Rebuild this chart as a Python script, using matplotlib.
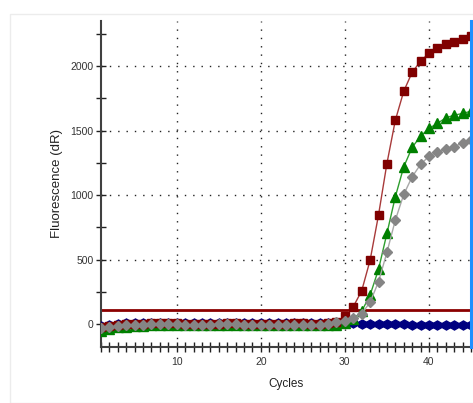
"""qPCR amplification plot: fluorescence (dR) per cycle."""

import matplotlib
matplotlib.use("Agg")
from matplotlib import pyplot as plt
from matplotlib.patches import Rectangle
from matplotlib.ticker import MultipleLocator, FixedLocator

plt.rcParams["font.family"] = ["Liberation Sans", "DejaVu Sans"]

cycles = list(range(1, 46))

blue = [-15, -5, 0, 5, 5, 8, 10, 10, 10, 12, 8, 8, 8, 8, 8, 10, 10, 8, 8, 8,
        8, 8, 10, 10, 10, 10, 10, 8, 8, 5, 5, 2, 2, 2, 2, 2, 0, -8, -8, -10,
        -10, -10, -10, -10, -10]
green = [-50, -35, -25, -20, -15, -15, -10, -10, -10, -10, -10, -10, -10, -10,
         -10, -10, -10, -10, -10, -10, -10, -10, -10, -10, -10, -10, -10, -8,
         -5, 5, 40, 100, 225, 424, 703, 987, 1219, 1370, 1457, 1517, 1556,
         1599, 1620, 1633, 1651]
red = [-20, -15, -5, 0, 0, 0, 5, 5, 5, 5, 0, 0, 0, 0, 0, 5, 5, 0, 0, 0,
       0, 0, 0, 5, 5, 0, 0, 5, 15, 60, 135, 258, 495, 845, 1245, 1580, 1805,
       1952, 2038, 2100, 2140, 2168, 2188, 2209, 2232]
gray = [-30, -25, -15, -10, -5, -5, 0, 0, 0, 0, -5, -5, -5, -5, 0, 0, 0, -5,
        -5, -5, -5, -5, -5, -5, -5, -5, -5, 0, 15, 25, 45, 80, 170, 328, 556,
        806, 1005, 1142, 1238, 1302, 1336, 1357, 1375, 1406, 1426]

threshold = 110
y_ticks = [0, 500, 1000, 1500, 2000]
x_ticks = [10, 20, 30, 40]

fig = plt.figure(figsize=(4.73, 4.03), dpi=100)
fig.patches.append(Rectangle((10 / 473, 0), 1, 1 - 14 / 403, transform=fig.transFigure,
                             facecolor="none", edgecolor="#ececec", lw=1))
ax = fig.add_axes([101 / 473, 1 - 346.7 / 403, 370 / 473, 325.7 / 403])

# grid
for x in x_ticks:
    ax.axvline(x, color="#222222", lw=1, ls=(0, (1, 5)), zorder=1)
for y in y_ticks[1:]:
    ax.axhline(y, color="#222222", lw=1, ls=(0, (1, 5)), zorder=1)

ax.axhline(threshold, color="#8b0000", lw=2, zorder=2)

ax.plot(cycles, blue, color="#000080", lw=1, marker="h", ms=6.5, mec="#000080", zorder=3)
ax.plot(cycles, green, color="#2e9e2e", lw=1, marker="^", ms=6.5, mfc="#008000",
        mec="#008000", zorder=4)
ax.plot(cycles, red, color="#a83a3a", lw=1, marker="s", ms=6, mfc="#800000",
        mec="#800000", zorder=5)
ax.plot(cycles, gray, color="#a8a8a8", lw=1, marker="D", ms=5.5, mfc="#858585",
        mec="#858585", zorder=6)

ax.axvline(45, color="#1e90ff", lw=2.2, zorder=7, clip_on=False)

ax.set_xlim(1, 45)
ax.set_ylim(-175, 2350)

for side in ("top", "right"):
    ax.spines[side].set_visible(False)
for side in ("left", "bottom"):
    ax.spines[side].set_color("#404040")
    ax.spines[side].set_linewidth(1.5)

ax.xaxis.set_major_locator(FixedLocator(x_ticks))
ax.xaxis.set_minor_locator(MultipleLocator(1))
ax.yaxis.set_major_locator(FixedLocator(y_ticks))
ax.yaxis.set_minor_locator(MultipleLocator(250))
ax.tick_params(axis="both", which="both", direction="inout", color="#202020",
               width=1, labelsize=7.5, labelcolor="#333333")
ax.tick_params(axis="x", which="both", length=7, pad=4)
ax.tick_params(axis="y", which="both", length=7, pad=2)

ax.set_xlabel("Cycles", fontsize=8.5, color="#222222", labelpad=8)
ax.set_ylabel("Fluorescence (dR)", fontsize=9.5, color="#222222", labelpad=5)

fig.savefig("out.png", dpi=100)
